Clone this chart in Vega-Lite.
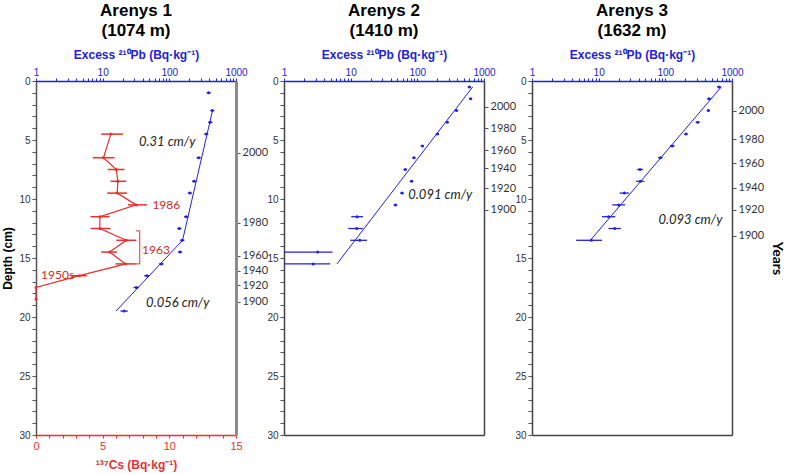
{
  "$schema": "https://vega.github.io/schema/vega-lite/v6.json",
  "padding": {"left": 1, "top": 2, "right": 2, "bottom": 2},
  "bounds": "flush",
  "spacing": 48,
  "config": {
    "view": {"stroke": null},
    "axis": {"grid": false, "labelFont": "Liberation Sans", "titleFont": "Liberation Sans", "labelFlush": false, "labelOverlap": false, "labelBound": false},
    "title": {"font": "Liberation Sans", "fontSize": 17, "fontWeight": "bold", "color": "#000000", "lineHeight": 20, "offset": 4, "dy": -4, "anchor": "middle"}
  },
  "datasets": {
    "cs1": [
      {"depth": 4.5, "cs": 5.61, "lo": 4.89, "hi": 6.52},
      {"depth": 6.5, "cs": 5.06, "lo": 4.26, "hi": 5.89},
      {"depth": 7.5, "cs": 6.02, "lo": 5.39, "hi": 6.64},
      {"depth": 8.5, "cs": 6.14, "lo": 5.59, "hi": 6.77},
      {"depth": 9.5, "cs": 6.09, "lo": 5.34, "hi": 6.82},
      {"depth": 10.5, "cs": 7.52, "lo": 6.9, "hi": 8.32},
      {"depth": 11.5, "cs": 4.79, "lo": 4.09, "hi": 5.52},
      {"depth": 12.5, "cs": 4.79, "lo": 4.09, "hi": 5.59},
      {"depth": 13.5, "cs": 6.77, "lo": 6.02, "hi": 7.52},
      {"depth": 14.5, "cs": 5.52, "lo": 4.89, "hi": 6.07},
      {"depth": 15.5, "cs": 6.72, "lo": 5.97, "hi": 7.47},
      {"depth": 16.5, "cs": 3.26, "lo": 2.63, "hi": 3.81},
      {"depth": 17.5, "cs": 0, "lo": 0, "hi": 0},
      {"depth": 18.5, "cs": 0, "lo": 0, "hi": 0}
    ],
    "cslab": [
      {"depth": 10.5, "cs": 8.73, "label": "1986"},
      {"depth": 14.35, "cs": 7.95, "label": "1963"},
      {"depth": 16.44, "cs": 0.38, "label": "1950s"}
    ],
    "bracket": [
      {"cs": 7.78, "cs2": 7.78, "depth": 12.7, "depth2": 15.5},
      {"cs": 7.5, "cs2": 7.78, "depth": 12.7, "depth2": 12.7},
      {"cs": 7.45, "cs2": 7.78, "depth": 15.5, "depth2": 15.5}
    ],
    "pb1": [
      {"depth": 1.0, "pb": 389, "lo": 362, "hi": 418},
      {"depth": 2.5, "pb": 441, "lo": 410, "hi": 474},
      {"depth": 3.5, "pb": 411, "lo": 382, "hi": 442},
      {"depth": 4.5, "pb": 358, "lo": 333, "hi": 385},
      {"depth": 6.5, "pb": 275, "lo": 256, "hi": 296},
      {"depth": 8.5, "pb": 236, "lo": 219, "hi": 254},
      {"depth": 9.5, "pb": 203, "lo": 189, "hi": 218},
      {"depth": 11.5, "pb": 179, "lo": 166, "hi": 193},
      {"depth": 12.5, "pb": 141, "lo": 131, "hi": 152},
      {"depth": 13.5, "pb": 156, "lo": 145, "hi": 168},
      {"depth": 14.5, "pb": 145, "lo": 135, "hi": 156},
      {"depth": 15.5, "pb": 76, "lo": 70, "hi": 82},
      {"depth": 16.5, "pb": 46, "lo": 42, "hi": 50},
      {"depth": 17.5, "pb": 32, "lo": 29, "hi": 35},
      {"depth": 19.5, "pb": 21, "lo": 18.5, "hi": 23.8}
    ],
    "fit1": [
      {"depth": 2.5, "pb": 445},
      {"depth": 13.5, "pb": 158},
      {"depth": 19.5, "pb": 15.8}
    ],
    "pb2": [
      {"depth": 0.5, "pb": 603, "lo": 570, "hi": 640},
      {"depth": 1.5, "pb": 630, "lo": 595, "hi": 665},
      {"depth": 2.5, "pb": 387, "lo": 365, "hi": 410},
      {"depth": 3.5, "pb": 281, "lo": 265, "hi": 298},
      {"depth": 4.5, "pb": 200, "lo": 189, "hi": 212},
      {"depth": 5.5, "pb": 119, "lo": 112, "hi": 126},
      {"depth": 6.5, "pb": 89, "lo": 84, "hi": 94},
      {"depth": 7.5, "pb": 66, "lo": 62, "hi": 70},
      {"depth": 8.5, "pb": 82, "lo": 77, "hi": 87},
      {"depth": 9.5, "pb": 59, "lo": 55.5, "hi": 62.5},
      {"depth": 10.5, "pb": 47, "lo": 44, "hi": 50},
      {"depth": 11.5, "pb": 12.5, "lo": 10.2, "hi": 15.3},
      {"depth": 12.5, "pb": 12.3, "lo": 9.2, "hi": 15.2},
      {"depth": 13.5, "pb": 13.7, "lo": 9.9, "hi": 17.6},
      {"depth": 14.5, "pb": 3.2, "lo": 1.0, "hi": 5.35},
      {"depth": 15.5, "pb": 2.74, "lo": 1.0, "hi": 4.93}
    ],
    "fit2": [
      {"depth": 0.5, "pb": 676},
      {"depth": 15.5, "pb": 6.23}
    ],
    "pb3": [
      {"depth": 0.5, "pb": 638, "lo": 600, "hi": 680},
      {"depth": 1.5, "pb": 452, "lo": 425, "hi": 480},
      {"depth": 2.5, "pb": 442, "lo": 418, "hi": 468},
      {"depth": 3.5, "pb": 306, "lo": 285, "hi": 328},
      {"depth": 4.5, "pb": 204, "lo": 192, "hi": 217},
      {"depth": 5.5, "pb": 127, "lo": 117, "hi": 138},
      {"depth": 6.5, "pb": 84, "lo": 78, "hi": 91},
      {"depth": 7.5, "pb": 41.7, "lo": 37.5, "hi": 46.5},
      {"depth": 8.5, "pb": 42.3, "lo": 36.5, "hi": 48.5},
      {"depth": 9.5, "pb": 24.3, "lo": 20.6, "hi": 28.5},
      {"depth": 10.5, "pb": 20, "lo": 16, "hi": 25},
      {"depth": 11.5, "pb": 14.1, "lo": 11.2, "hi": 17.8},
      {"depth": 12.5, "pb": 17.4, "lo": 14, "hi": 21.5},
      {"depth": 13.5, "pb": 7.77, "lo": 4.6, "hi": 11.2}
    ],
    "fit3": [
      {"depth": 0.5, "pb": 692},
      {"depth": 13.5, "pb": 7.5}
    ],
    "rates": [
      {"panel": 1, "depth": 5.14, "pb": 93, "label": "0.31 cm/y"},
      {"panel": 1, "depth": 18.84, "pb": 134, "label": "0.056 cm/y"},
      {"panel": 2, "depth": 9.66, "pb": 221, "label": "0.091 cm/y"},
      {"panel": 3, "depth": 11.8, "pb": 238, "label": "0.093 cm/y"}
    ]
  },
  "hconcat": [
    {
      "width": 200,
      "height": 354,
      "title": {"text": ["Arenys 1", "(1074 m)"]},
      "resolve": {"scale": {"x": "independent"}, "axis": {"x": "independent", "y": "independent"}},
      "layer": [
        {
          "encoding": {
            "y": {"field": "depth", "type": "quantitative", "scale": {"domain": [0, 30], "reverse": true, "nice": false, "zero": false},
              "axis": {"orient": "left", "values": [0,1,2,3,4,5,6,7,8,9,10,11,12,13,14,15,16,17,18,19,20,21,22,23,24,25,26,27,28,29,30], "tickCount": 100, "labelExpr": "datum.value % 5 === 0 ? format(datum.value, 'd') : ''", "title": "Depth (cm)", "titleFontWeight": "bold", "titleFontSize": 12, "titleColor": "#000000", "titlePadding": 4, "domainColor": "#555555", "domainWidth": 1.5, "tickColor": "#555555", "tickSize": 4, "labelFontSize": 10, "labelColor": "#333333", "labelPadding": 2}}
          },
          "layer": [
            {
              "data": {"name": "cs1"},
              "mark": {"type": "rule", "color": "#e8302e", "strokeWidth": 1.5},
              "encoding": {
                "x": {"field": "lo", "type": "quantitative", "scale": {"domain": [0, 15], "nice": false},
                  "axis": {"orient": "bottom", "values": [0,1,2,3,4,5,6,7,8,9,10,11,12,13,14,15], "tickCount": 100, "labelExpr": "datum.value % 5 === 0 ? format(datum.value, 'd') : ''", "title": "¹³⁷Cs (Bq·kg⁻¹)", "titleColor": "#e8302e", "titleFontWeight": "bold", "titleFontSize": 12, "titlePadding": 8, "labelColor": "#e8302e", "labelFontSize": 11, "labelPadding": 2, "domainColor": "#e8302e", "domainWidth": 1.5, "tickColor": "#e8302e", "tickSize": 3}},
                "x2": {"field": "hi"}
              }
            },
            {
              "data": {"name": "cs1"},
              "mark": {"type": "line", "color": "#e8302e", "strokeWidth": 1.2},
              "encoding": {
                "x": {"field": "cs", "type": "quantitative", "scale": {"domain": [0, 15], "nice": false}},
                "order": {"field": "depth"}
              }
            },
            {
              "data": {"name": "cs1"},
              "mark": {"type": "point", "filled": true, "size": 9, "color": "#e8302e", "opacity": 1},
              "encoding": {
                "x": {"field": "cs", "type": "quantitative", "scale": {"domain": [0, 15], "nice": false}}
              }
            },
            {
              "data": {"name": "bracket"},
              "mark": {"type": "rule", "color": "#e8302e", "strokeWidth": 1},
              "encoding": {
                "x": {"field": "cs", "type": "quantitative", "scale": {"domain": [0, 15], "nice": false}},
                "x2": {"field": "cs2"},
                "y2": {"field": "depth2"}
              }
            },
            {
              "data": {"name": "cslab"},
              "mark": {"type": "text", "color": "#d42a24", "font": "Lato", "fontSize": 12, "align": "left", "baseline": "middle"},
              "encoding": {
                "x": {"field": "cs", "type": "quantitative", "scale": {"domain": [0, 15], "nice": false}},
                "text": {"field": "label"}
              }
            }
          ]
        },
        {
          "encoding": {
            "y": {"field": "depth", "type": "quantitative", "scale": {"domain": [0, 30], "reverse": true, "nice": false, "zero": false},
              "axis": {"orient": "right", "values": [6.07, 12, 14.8, 16.1, 17.3, 18.7], "tickCount": 100, "labelExpr": "['2000','1980','1960','1940','1920','1900'][indexof([6.07, 12, 14.8, 16.1, 17.3, 18.7], datum.value)]", "title": null, "domainColor": "#8c8c8c", "domainWidth": 3, "tickColor": "#555555", "tickSize": 4, "labelFont": "Lato", "labelFontSize": 11, "labelColor": "#333333", "labelPadding": 2}}
          },
          "layer": [
            {
              "data": {"name": "pb1"},
              "mark": {"type": "rule", "color": "#2222dd", "strokeWidth": 1.3},
              "encoding": {
                "x": {"field": "lo", "type": "quantitative", "scale": {"type": "log", "domain": [1, 1000], "nice": false},
                  "axis": {"orient": "top", "values": [1,2,3,4,5,6,7,8,9,10,20,30,40,50,60,70,80,90,100,200,300,400,500,600,700,800,900,1000], "tickCount": 100, "labelExpr": "indexof([1,10,100,1000], datum.value) >= 0 ? format(datum.value, 'd') : ''", "title": "Excess ²¹⁰Pb (Bq·kg⁻¹)", "titleColor": "#2222dd", "titleFontWeight": "bold", "titleFontSize": 12, "titlePadding": 6, "labelColor": "#2222dd", "labelFontSize": 10, "labelPadding": 1, "domainColor": "#2222dd", "domainWidth": 1.5, "tickColor": "#2222dd", "tickSize": 3}},
                "x2": {"field": "hi"}
              }
            },
            {
              "data": {"name": "pb1"},
              "mark": {"type": "point", "filled": true, "size": 9, "color": "#2222dd", "opacity": 1},
              "encoding": {
                "x": {"field": "pb", "type": "quantitative", "scale": {"type": "log", "domain": [1, 1000], "nice": false}}
              }
            },
            {
              "data": {"name": "fit1"},
              "mark": {"type": "line", "color": "#2222dd", "strokeWidth": 1},
              "encoding": {
                "x": {"field": "pb", "type": "quantitative", "scale": {"type": "log", "domain": [1, 1000], "nice": false}},
                "order": {"field": "depth"}
              }
            },
            {
              "data": {"name": "rates"},
              "transform": [{"filter": "datum.panel == 1"}],
              "mark": {"type": "text", "font": "Lato", "fontStyle": "italic", "fontSize": 13, "color": "#222222", "align": "center", "baseline": "middle"},
              "encoding": {
                "x": {"field": "pb", "type": "quantitative", "scale": {"type": "log", "domain": [1, 1000], "nice": false}},
                "text": {"field": "label"}
              }
            }
          ]
        }
      ]
    },
    {
      "width": 200,
      "height": 354,
      "title": {"text": ["Arenys 2", "(1410 m)"]},
      "resolve": {"axis": {"x": "independent", "y": "independent"}},
      "layer": [
        {
          "encoding": {
            "y": {"field": "depth", "type": "quantitative", "scale": {"domain": [0, 30], "reverse": true, "nice": false, "zero": false},
              "axis": {"orient": "left", "values": [0,1,2,3,4,5,6,7,8,9,10,11,12,13,14,15,16,17,18,19,20,21,22,23,24,25,26,27,28,29,30], "tickCount": 100, "labelExpr": "datum.value % 5 === 0 ? format(datum.value, 'd') : ''", "title": null, "domainColor": "#444444", "domainWidth": 1.5, "tickColor": "#555555", "tickSize": 4, "labelFontSize": 10, "labelColor": "#333333", "labelPadding": 2}}
          },
          "layer": [
            {
              "data": {"name": "pb2"},
              "mark": {"type": "rule", "color": "#2222dd", "strokeWidth": 1.3},
              "encoding": {
                "x": {"field": "lo", "type": "quantitative", "scale": {"type": "log", "domain": [1, 1000], "nice": false},
                  "axis": {"orient": "top", "values": [1,2,3,4,5,6,7,8,9,10,20,30,40,50,60,70,80,90,100,200,300,400,500,600,700,800,900,1000], "tickCount": 100, "labelExpr": "indexof([1,10,100,1000], datum.value) >= 0 ? format(datum.value, 'd') : ''", "title": "Excess ²¹⁰Pb (Bq·kg⁻¹)", "titleColor": "#2222dd", "titleFontWeight": "bold", "titleFontSize": 12, "titlePadding": 6, "labelColor": "#2222dd", "labelFontSize": 10, "labelPadding": 1, "domainColor": "#2222dd", "domainWidth": 1.5, "tickColor": "#2222dd", "tickSize": 3}},
                "x2": {"field": "hi"}
              }
            },
            {
              "data": {"name": "pb2"},
              "mark": {"type": "point", "filled": true, "size": 9, "color": "#2222dd", "opacity": 1},
              "encoding": {
                "x": {"field": "pb", "type": "quantitative", "scale": {"type": "log", "domain": [1, 1000], "nice": false}}
              }
            }
          ]
        },
        {
          "encoding": {
            "y": {"field": "depth", "type": "quantitative", "scale": {"domain": [0, 30], "reverse": true, "nice": false, "zero": false},
              "axis": {"orient": "right", "values": [2.2, 4.0, 5.85, 7.4, 9.1, 10.9], "tickCount": 100, "labelExpr": "['2000','1980','1960','1940','1920','1900'][indexof([2.2, 4.0, 5.85, 7.4, 9.1, 10.9], datum.value)]", "title": null, "domainColor": "#444444", "domainWidth": 1.5, "tickColor": "#555555", "tickSize": 4, "labelFont": "Lato", "labelFontSize": 11, "labelColor": "#333333", "labelPadding": 2}}
          },
          "layer": [
            {
              "data": {"name": "fit2"},
              "mark": {"type": "line", "color": "#2222dd", "strokeWidth": 1},
              "encoding": {
                "x": {"field": "pb", "type": "quantitative", "scale": {"type": "log", "domain": [1, 1000], "nice": false},
                  "axis": {"orient": "bottom", "labels": false, "ticks": false, "domain": true, "domainColor": "#444444", "domainWidth": 1.5, "title": null}},
                "order": {"field": "depth"}
              }
            },
            {
              "data": {"name": "rates"},
              "transform": [{"filter": "datum.panel == 2"}],
              "mark": {"type": "text", "font": "Lato", "fontStyle": "italic", "fontSize": 13, "color": "#222222", "align": "center", "baseline": "middle"},
              "encoding": {
                "x": {"field": "pb", "type": "quantitative", "scale": {"type": "log", "domain": [1, 1000], "nice": false}},
                "text": {"field": "label"}
              }
            }
          ]
        }
      ]
    },
    {
      "width": 200,
      "height": 354,
      "title": {"text": ["Arenys 3", "(1632 m)"]},
      "resolve": {"axis": {"x": "independent", "y": "independent"}},
      "layer": [
        {
          "encoding": {
            "y": {"field": "depth", "type": "quantitative", "scale": {"domain": [0, 30], "reverse": true, "nice": false, "zero": false},
              "axis": {"orient": "left", "values": [0,1,2,3,4,5,6,7,8,9,10,11,12,13,14,15,16,17,18,19,20,21,22,23,24,25,26,27,28,29,30], "tickCount": 100, "labelExpr": "datum.value % 5 === 0 ? format(datum.value, 'd') : ''", "title": null, "domainColor": "#444444", "domainWidth": 1.5, "tickColor": "#555555", "tickSize": 4, "labelFontSize": 10, "labelColor": "#333333", "labelPadding": 2}}
          },
          "layer": [
            {
              "data": {"name": "pb3"},
              "mark": {"type": "rule", "color": "#2222dd", "strokeWidth": 1.3},
              "encoding": {
                "x": {"field": "lo", "type": "quantitative", "scale": {"type": "log", "domain": [1, 1000], "nice": false},
                  "axis": {"orient": "top", "values": [1,2,3,4,5,6,7,8,9,10,20,30,40,50,60,70,80,90,100,200,300,400,500,600,700,800,900,1000], "tickCount": 100, "labelExpr": "indexof([1,10,100,1000], datum.value) >= 0 ? format(datum.value, 'd') : ''", "title": "Excess ²¹⁰Pb (Bq·kg⁻¹)", "titleColor": "#2222dd", "titleFontWeight": "bold", "titleFontSize": 12, "titlePadding": 6, "labelColor": "#2222dd", "labelFontSize": 10, "labelPadding": 1, "domainColor": "#2222dd", "domainWidth": 1.5, "tickColor": "#2222dd", "tickSize": 3}},
                "x2": {"field": "hi"}
              }
            },
            {
              "data": {"name": "pb3"},
              "mark": {"type": "point", "filled": true, "size": 9, "color": "#2222dd", "opacity": 1},
              "encoding": {
                "x": {"field": "pb", "type": "quantitative", "scale": {"type": "log", "domain": [1, 1000], "nice": false}}
              }
            }
          ]
        },
        {
          "encoding": {
            "y": {"field": "depth", "type": "quantitative", "scale": {"domain": [0, 30], "reverse": true, "nice": false, "zero": false},
              "axis": {"orient": "right", "values": [2.5, 4.95, 6.95, 9.04, 10.9, 13.1], "tickCount": 100, "labelExpr": "['2000','1980','1960','1940','1920','1900'][indexof([2.5, 4.95, 6.95, 9.04, 10.9, 13.1], datum.value)]", "title": "Years", "titleFont": "Lato", "titleFontSize": 14, "titleFontWeight": "bold", "titleColor": "#000000", "titlePadding": 6, "domainColor": "#444444", "domainWidth": 1.5, "tickColor": "#555555", "tickSize": 4, "labelFont": "Lato", "labelFontSize": 11, "labelColor": "#333333", "labelPadding": 2}}
          },
          "layer": [
            {
              "data": {"name": "fit3"},
              "mark": {"type": "line", "color": "#2222dd", "strokeWidth": 1},
              "encoding": {
                "x": {"field": "pb", "type": "quantitative", "scale": {"type": "log", "domain": [1, 1000], "nice": false},
                  "axis": {"orient": "bottom", "labels": false, "ticks": false, "domain": true, "domainColor": "#444444", "domainWidth": 1.5, "title": null}},
                "order": {"field": "depth"}
              }
            },
            {
              "data": {"name": "rates"},
              "transform": [{"filter": "datum.panel == 3"}],
              "mark": {"type": "text", "font": "Lato", "fontStyle": "italic", "fontSize": 13, "color": "#222222", "align": "center", "baseline": "middle"},
              "encoding": {
                "x": {"field": "pb", "type": "quantitative", "scale": {"type": "log", "domain": [1, 1000], "nice": false}},
                "text": {"field": "label"}
              }
            }
          ]
        }
      ]
    }
  ]
}
